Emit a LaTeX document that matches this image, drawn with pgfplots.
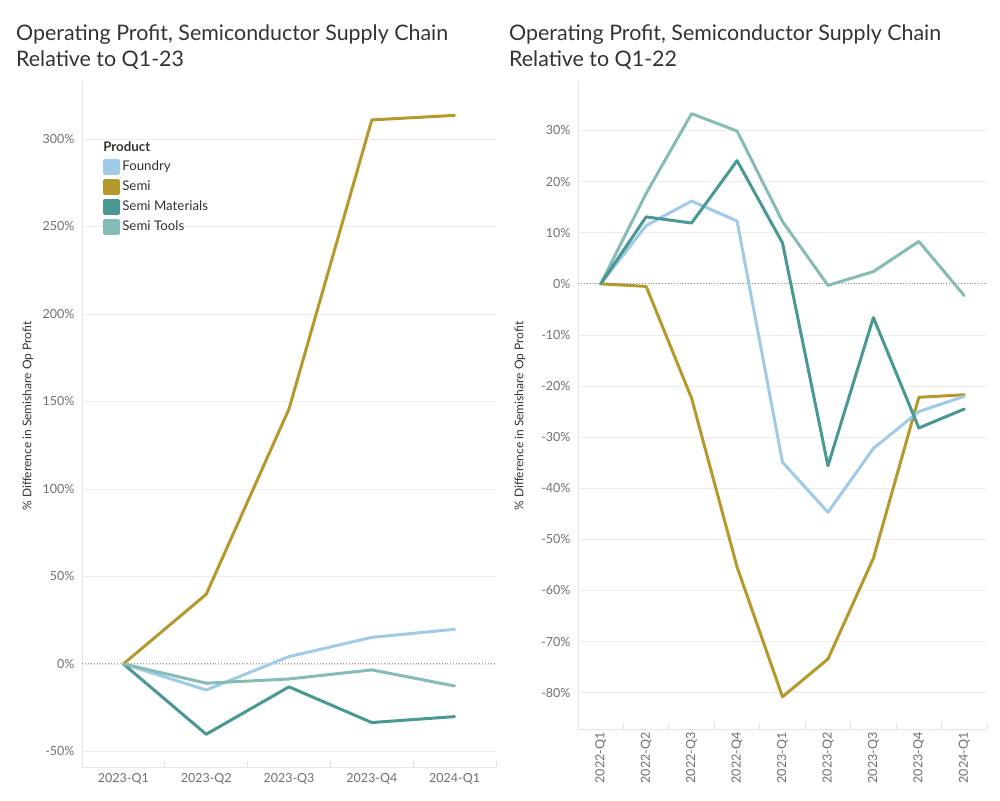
\documentclass[border=0pt]{standalone}
\usepackage{pgfplots}
\pgfplotsset{compat=1.18}
\usepackage{fontspec}
\setmainfont{Lato}
\definecolor{cFoundry}{HTML}{A0CBE8}
\definecolor{cSemi}{HTML}{B6992D}
\definecolor{cMat}{HTML}{499894}
\definecolor{cTools}{HTML}{86BCB6}
\definecolor{tickgray}{HTML}{6F6F6F}
\definecolor{titlegray}{HTML}{333333}

\pgfplotsset{
 mybase/.style={
  scale only axis, anchor=south west,
  axis lines*=left,
  axis line style={draw=black!10, line width=0.8pt},
  ymajorgrids, grid style={draw=black!7, line width=0.8pt},
  major tick length=0pt, minor tick length=6pt,
  tick style={draw=black!12, line width=0.8pt},
  /pgf/number format/assume math mode=true,
  ticklabel style={font=\fontsize{12.5}{14}\selectfont, text=tickgray},
  yticklabel={\pgfmathprintnumber{\tick}\%},
  yticklabel style={xshift=-4pt},
  every axis plot/.append style={line width=3pt, line join=round, line cap=round, mark=none},
 }
}

\begin{document}
\begin{tikzpicture}
\path[use as bounding box] (0,0) rectangle (1000pt,800pt);

% titles
\node[anchor=base west, text=titlegray, font=\fontsize{21.4}{26}\selectfont, inner sep=0pt] at (16pt,759pt) {Operating Profit, Semiconductor Supply Chain};
\node[anchor=base west, text=titlegray, font=\fontsize{21.4}{26}\selectfont, inner sep=0pt] at (16pt,733pt) {Relative to Q1-23};
\node[anchor=base west, text=titlegray, font=\fontsize{21.4}{26}\selectfont, inner sep=0pt] at (509pt,759pt) {Operating Profit, Semiconductor Supply Chain};
\node[anchor=base west, text=titlegray, font=\fontsize{21.4}{26}\selectfont, inner sep=0pt] at (509pt,733pt) {Relative to Q1-22};

% y labels
\node[rotate=90, text=titlegray, font=\fontsize{12}{14}\selectfont] at (28pt,384pt) {\% Difference in Semishare Op Profit};
\node[rotate=90, text=titlegray, font=\fontsize{12}{14}\selectfont] at (520pt,384pt) {\% Difference in Semishare Op Profit};

% left axis
\begin{axis}[mybase,
  at={(82pt,33pt)}, width=414pt, height=684pt,
  xmin=-0.5, xmax=4.5, ymin=-58.9, ymax=332,
  xtick={0,1,2,3,4},
  xticklabels={2023-Q1,2023-Q2,2023-Q3,2023-Q4,2024-Q1},
  minor xtick={-0.5,0.5,1.5,2.5,3.5,4.5},
  xticklabel style={yshift=-3pt},
  ytick={-50,0,50,100,150,200,250,300},
  legend style={at={(0.051,0.918)}, anchor=north west, draw=none, fill=none,
    font=\fontsize{13.3}{15}\selectfont, text=titlegray, row sep=4pt, inner sep=0pt,
    /tikz/every even column/.append style={column sep=5pt}},
  legend cell align=left,
  legend image code/.code={\fill[#1] (0pt,-6.5pt) rectangle (14pt,6.5pt);},
]
\draw[dotted, black!40, line width=0.9pt] (axis cs:-0.5,0) -- (axis cs:4.5,0);
\addlegendimage{empty legend}
\addlegendentry{\hspace*{-19pt}\textbf{Product}}
\addplot[color=cFoundry] coordinates {(0,0) (1,-14.9) (2,4.2) (3,15.2) (4,19.8)};
\addlegendentry{Foundry}
\addplot[color=cSemi] coordinates {(0,0) (1,39.8) (2,145.7) (3,310.9) (4,313.5)};
\addlegendentry{Semi}
\addplot[color=cMat] coordinates {(0,0) (1,-40.2) (2,-13.1) (3,-33.5) (4,-30.1)};
\addlegendentry{Semi Materials}
\addplot[color=cTools] coordinates {(0,0) (1,-11.0) (2,-8.6) (3,-3.4) (4,-12.6)};
\addlegendentry{Semi Tools}
\end{axis}

% right axis
\begin{axis}[mybase,
  at={(578pt,71pt)}, width=409pt, height=646pt,
  xmin=-0.5, xmax=8.5, ymin=-87.1, ymax=39.3,
  xtick={0,1,2,3,4,5,6,7,8},
  xticklabels={2022-Q1,2022-Q2,2022-Q3,2022-Q4,2023-Q1,2023-Q2,2023-Q3,2023-Q4,2024-Q1},
  minor xtick={-0.5,0.5,1.5,2.5,3.5,4.5,5.5,6.5,7.5,8.5},
  xticklabel style={rotate=90, anchor=east, yshift=0pt},
  ytick={-80,-70,-60,-50,-40,-30,-20,-10,0,10,20,30},
]
\draw[dotted, black!40, line width=0.9pt] (axis cs:-0.5,0) -- (axis cs:8.5,0);
\addplot[color=cTools] coordinates {(0,0) (1,17.7) (2,33.3) (3,29.9) (4,12.2) (5,-0.3) (6,2.4) (7,8.3) (8,-2.3)};
\addplot[color=cSemi] coordinates {(0,0) (1,-0.5) (2,-22.4) (3,-55.4) (4,-80.8) (5,-73.4) (6,-53.7) (7,-22.2) (8,-21.7)};
\addplot[color=cFoundry] coordinates {(0,0) (1,11.4) (2,16.2) (3,12.3) (4,-34.9) (5,-44.7) (6,-32.2) (7,-25.0) (8,-22.0)};
\addplot[color=cMat] coordinates {(0,0) (1,13.1) (2,11.9) (3,24.1) (4,8.0) (5,-35.6) (6,-6.6) (7,-28.2) (8,-24.5)};
\end{axis}
\end{tikzpicture}
\end{document}
